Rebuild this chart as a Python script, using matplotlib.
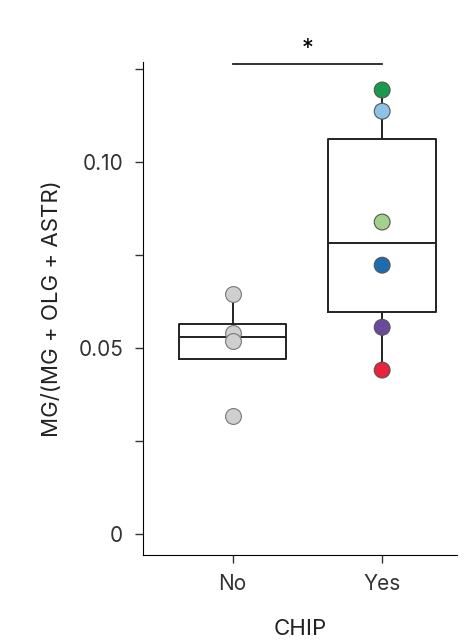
import matplotlib
matplotlib.use("Agg")
import matplotlib.pyplot as plt

categories = ["No", "Yes"]
no_vals = [0.0645, 0.054, 0.052, 0.0317]
yes_vals = [0.1194, 0.1137, 0.0839, 0.0723, 0.0556, 0.0441]
yes_colors = ["#1a9a4e", "#8cc3e6", "#a3d08a", "#1b6db0", "#6a4a9c", "#e8243c"]
# box stats: (q1, median, q3, whislo, whishi)
box_no = (0.047, 0.053, 0.0565, 0.047, 0.0645)
box_yes = (0.0597, 0.0782, 0.1062, 0.0441, 0.1194)

plt.rcParams['font.family'] = ['Inter', 'DejaVu Sans']
fig = plt.figure(figsize=(4.76, 6.43), dpi=100)
ax = fig.add_axes([0.300, 0.137, 0.66, 0.767])

stats = []
for b in (box_no, box_yes):
    stats.append(dict(q1=b[0], med=b[1], q3=b[2], whislo=b[3], whishi=b[4], fliers=[]))
ax.bxp(stats, positions=[1, 2], widths=0.72, showcaps=False,
       boxprops=dict(color="#222", lw=1.4), medianprops=dict(color="#222", lw=1.4),
       whiskerprops=dict(color="#222", lw=1.4), zorder=2)

ax.scatter([1]*len(no_vals), no_vals, s=130, c="#cfcfcf", edgecolors="#777", lw=0.8, zorder=3)
ax.scatter([2]*len(yes_vals), yes_vals, s=130, c=yes_colors, edgecolors="#555", lw=0.8, zorder=3)

ax.plot([1, 2], [0.1265, 0.1265], color="#222", lw=1.3, clip_on=False)
ax.text(1.5, 0.1275, "*", ha="center", va="bottom", fontsize=17)

ax.set_xlim(0.4, 2.5)
ax.set_ylim(-0.0056, 0.127)
ax.set_xticks([1, 2])
ax.set_xticklabels(categories, fontsize=15, color="#333")
ax.set_yticks([0, 0.05, 0.10])
ax.set_yticklabels(["0", "0.05", "0.10"], fontsize=15, color="#333")
ax.set_yticks([0.025, 0.075, 0.125], minor=True)
ax.tick_params(axis='both', which='both', length=6, width=1, color="#333", pad=8)
ax.spines['top'].set_visible(False)
ax.spines['right'].set_visible(False)
ax.set_ylabel("MG/(MG + OLG + ASTR)", fontsize=16, color="#222", labelpad=12)
ax.set_xlabel("CHIP", fontsize=16, color="#222", labelpad=18)
fig.savefig("out.png", dpi=100)
